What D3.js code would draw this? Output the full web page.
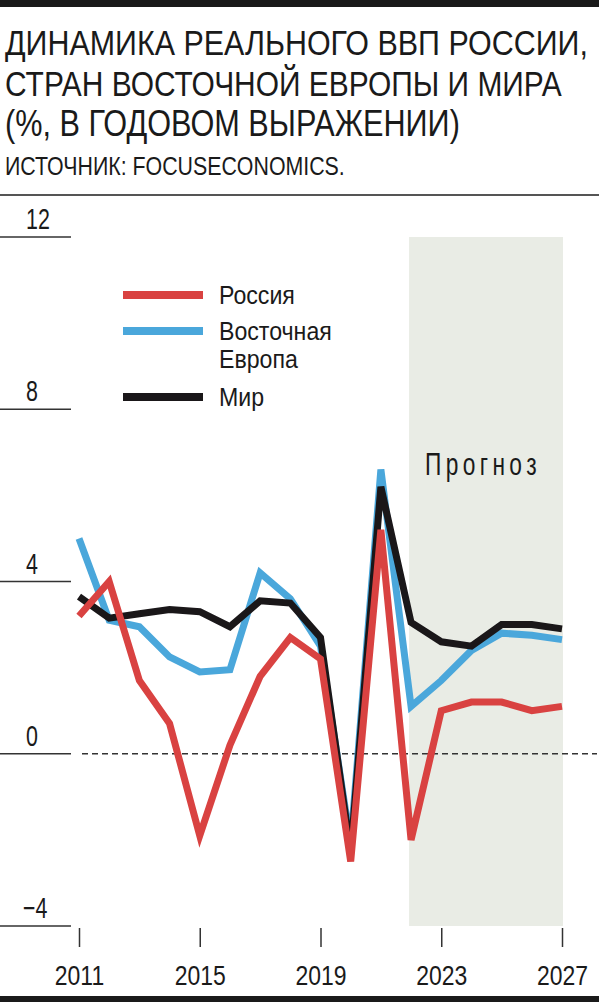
<!DOCTYPE html>
<html><head><meta charset="utf-8">
<script src="https://cdn.jsdelivr.net/npm/d3@7"></script>
<style>
html,body{margin:0;padding:0;background:#fff;}
svg{display:block;}
text{font-family:"Liberation Sans",Arial,"Noto Sans",sans-serif;fill:#1a1a1a;font-weight:400;}
</style></head>
<body>
<script>
const years = [2011,2012,2013,2014,2015,2016,2017,2018,2019,2020,2021,2022,2023,2024,2025,2026,2027];
const russia = [3.2,4.0,1.7,0.7,-1.9,0.2,1.8,2.7,2.2,-2.5,5.2,-2.0,1.0,1.2,1.2,1.0,1.1];
const eastEurope = [5.0,3.1,2.95,2.25,1.9,1.95,4.2,3.6,2.5,-2.1,6.6,1.1,1.7,2.4,2.8,2.75,2.65];
const world = [3.65,3.15,3.25,3.35,3.3,2.95,3.55,3.5,2.7,-2.3,6.2,3.05,2.6,2.5,3.0,3.0,2.9];
const yTicks = [12,8,4,0,-4];
const xTicks = [2011,2015,2019,2023,2027];
const forecastStart = 2022;
const titleLines = ["ДИНАМИКА РЕАЛЬНОГО ВВП РОССИИ,","СТРАН ВОСТОЧНОЙ ЕВРОПЫ И МИРА","(%, В ГОДОВОМ ВЫРАЖЕНИИ)"];
const sourceText = "ИСТОЧНИК: FOCUSECONOMICS.";
const forecastLabel = "Прогноз";

const W = 599, H = 1006;
const svg = d3.select("body").append("svg").attr("width", W).attr("height", H);

// place a text at (x,y) and squeeze it horizontally by factor f (or to a target width)
function placeText(parent, str, x, y, size, opts){
  opts = opts || {};
  const t = parent.append("text").attr("x",0).attr("y",0).attr("font-size",size).text(str);
  if (opts.fill) t.attr("fill", opts.fill);
  if (opts.spacing) t.attr("letter-spacing", opts.spacing);
  const len = t.node().getComputedTextLength();
  const f = opts.width ? opts.width/len : (opts.f || 1);
  t.attr("transform", `translate(${x},${y}) scale(${f},1)`);
  return t;
}

// frame bars
svg.append("rect").attr("x",0).attr("y",0).attr("width",W).attr("height",7).attr("fill","#1a1a1a");
svg.append("rect").attr("x",0).attr("y",996).attr("width",W).attr("height",6).attr("fill","#1a1a1a");
svg.append("line").attr("x1",0).attr("x2",W).attr("y1",195).attr("y2",195).attr("stroke","#555").attr("stroke-width",2);

// titles
const titleWidths = [583,557,455];
titleLines.forEach((t,i)=>{
  placeText(svg, t, 5, 55+i*40.5, 36, {width:titleWidths[i]});
});
placeText(svg, sourceText, 5, 175, 25, {width:340, fill:"#333"});

const x = d3.scaleLinear().domain([2011,2027]).range([79,562]);
const y = d3.scaleLinear().domain([-4,12]).range([926,237]);

// forecast area
svg.append("rect").attr("x",x(forecastStart)-2).attr("y",y(12)).attr("width",563-(x(forecastStart)-2)).attr("height",y(-4)-y(12)).attr("fill","#e9ece5");
placeText(svg, forecastLabel, 425, 475, 31, {width:116, spacing:6});

// y axis stubs
const yAxis = svg.append("g");
yTicks.forEach(v=>{
  yAxis.append("line").attr("x1",0).attr("x2",71).attr("y1",y(v)).attr("y2",y(v)).attr("stroke","#333").attr("stroke-width",1.5);
  placeText(yAxis, v<0?"\u2212"+Math.abs(v):String(v), v<0?23:26, y(v)-8, 29, {f:0.74});
});

// zero dashed line
svg.append("line").attr("x1",82).attr("x2",597).attr("y1",y(0)).attr("y2",y(0))
  .attr("stroke","#333").attr("stroke-width",1.5).attr("stroke-dasharray","6,4");

// x axis
const xg = svg.append("g").attr("transform","translate(0,928)")
  .call(d3.axisBottom(x).tickValues(xTicks).tickFormat(d3.format("d")).tickSize(19).tickPadding(18));
xg.select(".domain").remove();
xg.attr("font-family",null).attr("font-size",null);
xg.selectAll(".tick line").attr("stroke","#333").attr("stroke-width",1.5);
xg.selectAll(".tick text").attr("font-size",28).attr("fill","#1a1a1a").attr("transform","scale(0.82,1)");

// lines
const line = d3.line().x((d,i)=>x(years[i])).y(d=>y(d));
const series = [
  {vals:eastEurope,color:"#4aa7db"},
  {vals:world,color:"#1a1719"},
  {vals:russia,color:"#d94241"}
];
series.forEach(s=>{
  svg.append("path").datum(s.vals).attr("d",line).attr("fill","none")
    .attr("stroke",s.color).attr("stroke-width",7).attr("stroke-linejoin","miter");
});

// legend
const legend = [
  {name:["Россия"],color:"#d94241",ly:295},
  {name:["Восточная","Европа"],color:"#4aa7db",ly:331},
  {name:["Мир"],color:"#1a1719",ly:397}
];
legend.forEach(l=>{
  svg.append("line").attr("x1",123).attr("x2",203).attr("y1",l.ly).attr("y2",l.ly).attr("stroke",l.color).attr("stroke-width",8);
  l.name.forEach((n,j)=>{
    placeText(svg, n, 219, l.ly+9+j*27.5, 26, {f:0.89});
  });
});
</script>
</body></html>
